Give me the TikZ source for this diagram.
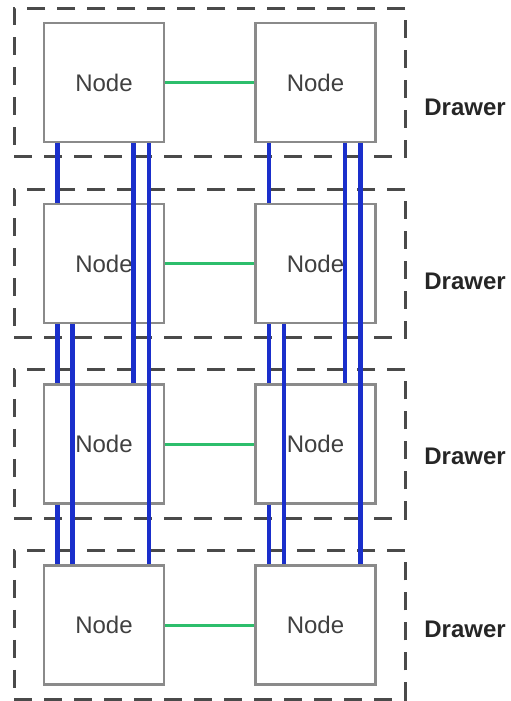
\documentclass[tikz,border=0pt]{standalone}
\usepackage{fontspec}
\setmainfont{Liberation Sans}
\usetikzlibrary{calc,positioning,fit}
\definecolor{busblue}{HTML}{1A2FCB}
\definecolor{linkgreen}{HTML}{2DBE6C}
\definecolor{edgegray}{HTML}{8A8A8A}
\definecolor{dashgray}{HTML}{4A4A4A}
\definecolor{textgray}{HTML}{404040}
\tikzset{every node/.style={font=\fontsize{12}{14}\selectfont},
  box/.style={draw=edgegray,line width=1.2pt,fill=white,minimum width=60pt,minimum height=59.5pt,text=textgray},
  drawer/.style={draw=dashgray,line width=1.5pt,dash pattern=on 9pt off 6pt,inner xsep=14.3pt,inner ysep=6.8pt},
  link/.style={draw=linkgreen,line width=1.5pt},
  bus/.style={draw=busblue,line width=2.2pt},
  tag/.style={anchor=west,inner xsep=0pt,text=black!85,font=\fontsize{12}{14}\selectfont\bfseries}}
\begin{document}
\begin{tikzpicture}[x=.5pt,y=-.5pt]
\useasboundingbox(0,0)rectangle(510,701);
% one drawer per row: two nodes and their link
\foreach \r/\y/\t in {1/82.5/107,2/263.5/281,3/444/456,4/625/629}{
  \node[box](L\r)at(104,\y){Node};\node[box](R\r)at(315.5,\y){Node};
  \draw[link](L\r)--(R\r);
  \node[drawer,fit=(L\r)(R\r)](D\r){};
  \node[tag](T\r)at(424,\t){Drawer};}
% full mesh in each column
\foreach \c in {L,R}{
  \foreach \a/\b/\o in {1/2/14.5,2/3/14.5,3/4/14.5,2/4/29.5,1/3/90.5,1/4/106}
    \draw[bus]($(\c\a.south west)+(\o,0)$)--($(\c\b.north west)+(\o,0)$);}
\end{tikzpicture}
\end{document}
